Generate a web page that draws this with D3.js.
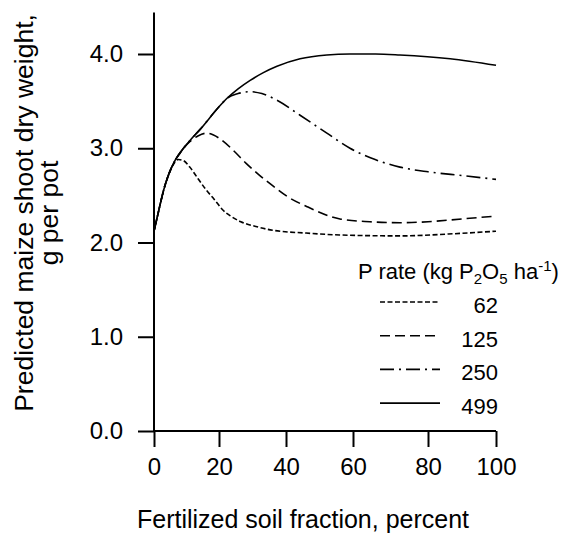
<!DOCTYPE html>
<html>
<head>
<meta charset="utf-8">
<script src="https://cdn.jsdelivr.net/npm/d3@7"></script>
<style>
    body { margin: 0; background: #fff; }
    text { font-family: "Liberation Sans", Arial, sans-serif; fill: #000; }
</style>
</head>
<body>
<svg id="chart"></svg>
<script>
// fertilized soil fraction (%) vs predicted shoot dry weight (g per pot)
const rate62 = [[0,2.12],[1,2.27],[2,2.42],[3,2.56],[4.5,2.72],[6,2.83],[7.5,2.88],[9,2.87],[11,2.8],[13.5,2.68],[16,2.56],[18.5,2.46],[21,2.35],[23.5,2.28],[26.5,2.22],[31,2.17],[36,2.13],[46,2.1],[56,2.08],[72.5,2.07],[86,2.09],[100,2.12]]
const rate125 = [[0,2.12],[1,2.27],[2,2.42],[3,2.56],[4.5,2.72],[6,2.84],[8,2.95],[11,3.07],[13.5,3.13],[16.2,3.16],[18.3,3.14],[20.3,3.1],[24.2,2.98],[28.1,2.84],[32.2,2.71],[36.1,2.6],[40.3,2.49],[46.3,2.38],[56.1,2.25],[64.5,2.22],[72.5,2.21],[80,2.22],[90,2.25],[100,2.28]]
const rate250 = [[0,2.12],[1,2.27],[2,2.42],[3,2.56],[4.5,2.72],[6,2.84],[8,2.95],[11,3.08],[14.2,3.2],[20,3.44],[22.4,3.53],[25.7,3.58],[29.3,3.6],[32.8,3.58],[37.3,3.51],[44.2,3.35],[52.2,3.16],[59.1,3.0],[65.9,2.88],[72.5,2.8],[80,2.75],[90,2.71],[100,2.67]]
const rate499 = [[0,2.12],[1,2.27],[2,2.42],[3,2.56],[4.5,2.72],[6,2.84],[8,2.95],[11,3.08],[14.2,3.2],[20,3.44],[22.4,3.53],[25.7,3.63],[29.3,3.72],[33.1,3.8],[37.3,3.87],[44.2,3.95],[52.2,3.99],[59,4.0],[66,4.0],[72.5,3.99],[86.5,3.95],[100,3.88]]

const rateLabels = ['62', '125', '250', '499']
const xTicks = [0, 20, 40, 60, 80, 100]
const yTicks = [0, 1, 2, 3, 4]

const series = [rate62, rate125, rate250, rate499]
const dashes = ['5,2.5', '10,5', '14,5,2,5', null]

const width = 564, height = 537
const svg = d3.select('#chart')
    .attr('width', width)
    .attr('height', height)

// the printed x axis has slightly uneven tick spacing, so map each tick
const xScale = d3.scaleLinear().domain(xTicks).range([154, 219, 286, 353, 428, 496])
const yScale = d3.scaleLinear().domain([0, 4]).range([431, 54])

// axes
const xAxisG = svg.append('g')
    .attr('transform', `translate(0,${yScale(0)})`)
    .call(d3.axisBottom(xScale).tickValues(xTicks).tickSize(16).tickPadding(11).tickFormat(d3.format('d')))
xAxisG.select('.domain').attr('d', `M${xScale(0)},0H${xScale(100)}`)

const yAxisG = svg.append('g')
    .attr('transform', `translate(${xScale(0)},0)`)
    .call(d3.axisLeft(yScale).tickValues(yTicks).tickSize(16).tickPadding(15).tickFormat(d3.format('.1f')))
yAxisG.select('.domain').attr('d', `M0,${yScale(0)}V${yScale(4.44)}`)

svg.selectAll('.tick text').attr('font-size', 24).attr('font-family', '"Liberation Sans", Arial, sans-serif')
svg.selectAll('.domain, .tick line').attr('stroke', '#000').attr('stroke-width', 2)

// curves
const line = d3.line()
    .x(d => xScale(d[0]))
    .y(d => yScale(d[1]))
    .curve(d3.curveMonotoneX)

svg.append('g').selectAll('path')
    .data(series)
    .join('path')
    .attr('d', line)
    .attr('fill', 'none')
    .attr('stroke', '#000')
    .attr('stroke-width', 1.6)
    .attr('stroke-dasharray', (d, i) => dashes[i])

// axis titles
svg.append('text')
    .attr('x', 303)
    .attr('y', 528)
    .attr('text-anchor', 'middle')
    .attr('font-size', 25)
    .text('Fertilized soil fraction, percent')

const yTitle = svg.append('text')
    .attr('transform', 'translate(33,213) rotate(-90)')
    .attr('text-anchor', 'middle')
    .attr('font-size', 26.5)
yTitle.append('tspan').attr('x', 0).attr('y', 0).text('Predicted maize shoot dry weight,')
yTitle.append('tspan').attr('x', 0).attr('y', 25).text('g per pot')

// legend
const legend = svg.append('g')
const title = legend.append('text')
    .attr('x', 358)
    .attr('y', 279)
    .attr('font-size', 22)
title.append('tspan').text('P rate (kg P')
title.append('tspan').attr('font-size', 15).attr('dy', 5).text('2')
title.append('tspan').attr('dy', -5).text('O')
title.append('tspan').attr('font-size', 15).attr('dy', 5).text('5')
title.append('tspan').attr('dy', -5).text(' ha')
title.append('tspan').attr('font-size', 15).attr('dy', -8).text('-1')
title.append('tspan').attr('dy', 8).text(')')

const rows = legend.selectAll('.row')
    .data(rateLabels)
    .join('g')
    .attr('class', 'row')
    .attr('transform', (d, i) => `translate(0,${302 + i * 33.7})`)
rows.append('line')
    .attr('x1', 380).attr('x2', 440)
    .attr('stroke', '#000')
    .attr('stroke-width', 1.6)
    .attr('stroke-dasharray', (d, i) => dashes[i])
rows.append('text')
    .attr('x', 498)
    .attr('y', 11)
    .attr('text-anchor', 'end')
    .attr('font-size', 22)
    .text(d => d)
</script>
</body>
</html>
